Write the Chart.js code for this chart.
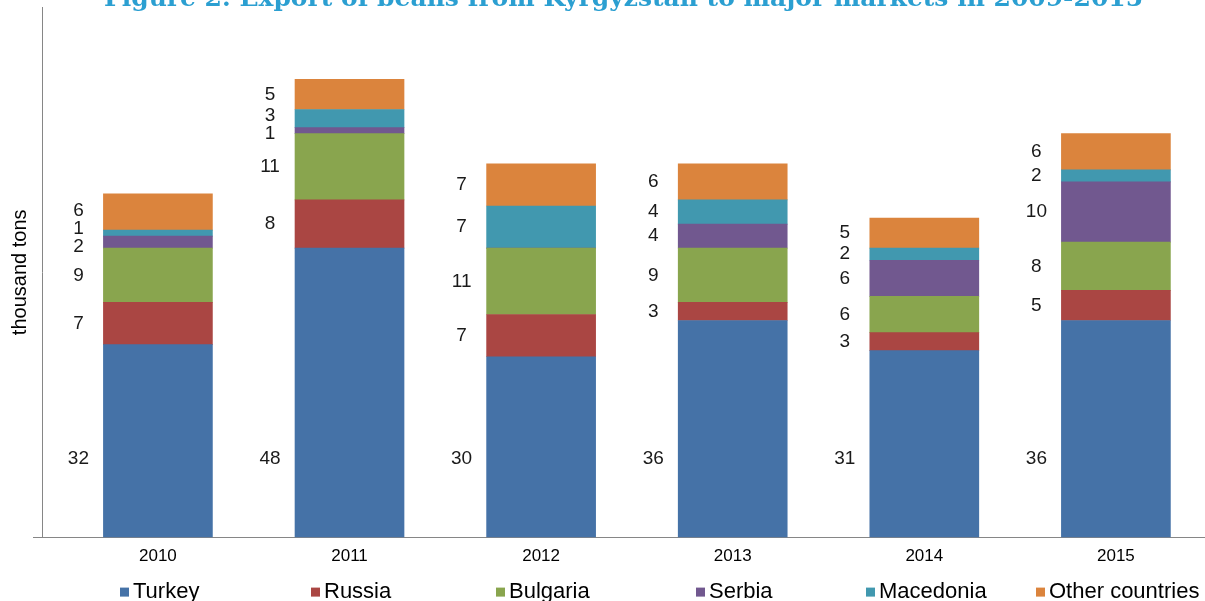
<!DOCTYPE html>
<html>
<head>
<meta charset="utf-8">
<script src="https://cdn.jsdelivr.net/npm/chart.js@4/dist/chart.umd.min.js"></script>
<style>
  html, body { margin: 0; padding: 0; background: #fff; overflow: hidden; }
  #wrap { position: absolute; left: 0; top: -9px; width: 1205px; height: 650px; }
</style>
</head>
<body>
<div id="wrap"><canvas id="beansChart" width="1205" height="650"></canvas></div>
<script>
// ============ DATA ============
const years = ['2010', '2011', '2012', '2013', '2014', '2015'];
const turkey    = [32, 48, 30, 36, 31, 36];
const russia    = [7, 8, 7, 3, 3, 5];
const bulgaria  = [9, 11, 11, 9, 6, 8];
const serbia    = [2, 1, 0, 4, 6, 10];
const macedonia = [1, 3, 7, 4, 2, 2];
const other     = [6, 5, 7, 6, 5, 6];

const seriesNames  = ['Turkey', 'Russia', 'Bulgaria', 'Serbia', 'Macedonia', 'Other countries'];
const seriesValues = [turkey, russia, bulgaria, serbia, macedonia, other];
const seriesColors = ['#4572a7', '#aa4643', '#89a54e', '#71588f', '#4198af', '#db843d'];

const Y_MAX = 88;
const BASE_LABEL_AT = 13; // value height where the bottom series labels sit

// ============ PLUGINS ============
// value labels to the left of each bar
const sideLabels = {
    id: 'sideLabels',
    afterDatasetsDraw(chart) {
        const ctx = chart.ctx;
        const yScale = chart.scales.y;
        ctx.save();
        ctx.font = '19px "Liberation Sans", Arial, sans-serif';
        ctx.fillStyle = '#1a1a1a';
        ctx.textAlign = 'center';
        ctx.textBaseline = 'middle';
        years.forEach((yr, i) => {
            const items = [];
            chart.data.datasets.forEach((ds, d) => {
                const v = ds.data[i].y;
                if (!v) return;
                const bar = chart.getDatasetMeta(d).data[i];
                const x = bar.x - bar.width / 2 - 25;
                const y = d === 0 ? yScale.getPixelForValue(BASE_LABEL_AT) : (bar.y + bar.base) / 2;
                items.push({ v, x, y });
            });
            // spread the small stacked labels so they don't overlap
            const GAP = 18;
            for (let pass = 0; pass < 12; pass++) {
                for (let k = 2; k < items.length; k++) {
                    const lo = items[k - 1], hi = items[k];
                    const dist = lo.y - hi.y;
                    if (dist < GAP) {
                        const d = (GAP - dist) / 2;
                        lo.y += d;
                        hi.y -= d;
                    }
                }
            }
            items.forEach(it => ctx.fillText(String(it.v), it.x, it.y));
        });
        ctx.restore();
    }
};

// legend row under the axis, one entry per slot
const bottomLegend = {
    id: 'bottomLegend',
    afterDraw(chart) {
        const ctx = chart.ctx;
        const xScale = chart.scales.x;
        const baseline = chart.chartArea.bottom + 60;
        ctx.save();
        ctx.font = '22px "Liberation Sans", Arial, sans-serif';
        ctx.textAlign = 'left';
        ctx.textBaseline = 'alphabetic';
        chart.data.datasets.forEach((ds, i) => {
            const tw = ctx.measureText(ds.label).width;
            const w = 9 + 4 + tw;
            const cx = xScale.getPixelForValue(i) + 2;
            const left = Math.round(cx - w / 2);
            ctx.fillStyle = ds.backgroundColor;
            ctx.fillRect(left, baseline - 10, 9, 9);
            ctx.fillStyle = '#000';
            ctx.fillText(ds.label, left + 13, baseline);
        });
        ctx.restore();
    }
};

// ============ CHART ============
const datasets = seriesNames.map((name, s) => ({
    label: name,
    data: seriesValues[s].map((v, i) => ({ x: i, y: v })),
    backgroundColor: seriesColors[s],
    borderWidth: 0,
    barThickness: 109
}));

new Chart(document.getElementById('beansChart').getContext('2d'), {
    type: 'bar',
    data: { datasets },
    options: {
        responsive: false,
        animation: false,
        devicePixelRatio: 1,
        layout: { padding: { left: 4, right: 0, top: 0, bottom: 65 } },
        plugins: {
            legend: { display: false },
            tooltip: { enabled: false },
            title: {
                display: true,
                fullSize: false,
                text: 'Figure 2. Export of beans from Kyrgyzstan to major markets in 2009-2015',
                color: '#2b9fd1',
                font: { family: '"DejaVu Serif", serif', size: 25, weight: 'bold', lineHeight: 0.64 },
                padding: 0
            }
        },
        scales: {
            x: {
                type: 'linear',
                stacked: true,
                bounds: 'data',
                offset: false,
                min: -0.605,
                max: 5.465,
                afterBuildTicks: s => { s.ticks = years.map((_, i) => ({ value: i })); },
                grid: { display: false, drawTicks: false },
                border: { display: true, color: '#868686', width: 1 },
                ticks: {
                    autoSkip: false,
                    maxRotation: 0,
                    padding: 9,
                    color: '#000',
                    font: { family: '"Liberation Sans", Arial, sans-serif', size: 17 },
                    callback: v => years[v] ?? ''
                }
            },
            y: {
                stacked: true,
                min: 0,
                max: Y_MAX,
                afterBuildTicks: s => { s.ticks = [{ value: 0 }]; },
                grid: {
                    drawOnChartArea: false,
                    drawTicks: true,
                    tickLength: 9,
                    color: c => (c.tick && c.tick.value === 0 ? '#868686' : 'rgba(0,0,0,0)')
                },
                border: { display: true, color: '#868686', width: 1 },
                ticks: { display: false },
                title: {
                    display: true,
                    text: 'thousand tons',
                    color: '#000',
                    font: { family: '"Liberation Sans", Arial, sans-serif', size: 20 },
                    padding: { top: 4, bottom: 1 }
                }
            }
        }
    },
    plugins: [sideLabels, bottomLegend]
});
</script>
</body>
</html>
